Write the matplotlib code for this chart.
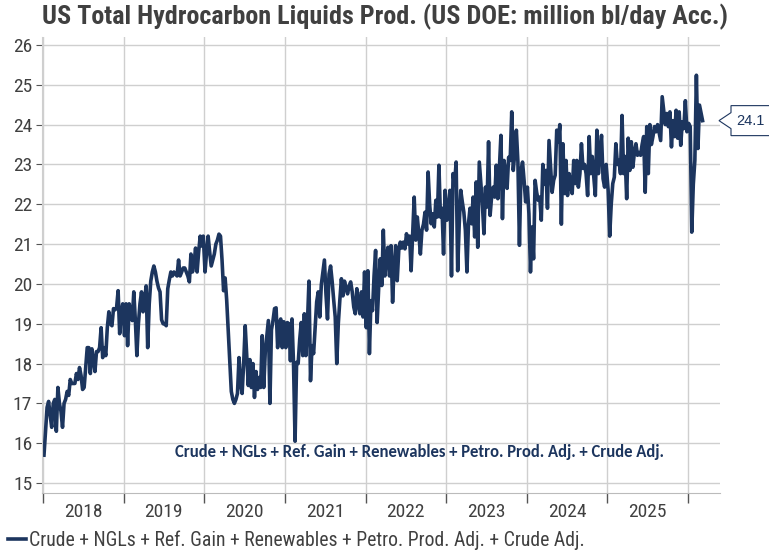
import numpy as np
import pandas as pd
import matplotlib
matplotlib.use('Agg')
import matplotlib.pyplot as plt
import matplotlib.dates as mdates
from matplotlib import font_manager as fm
from matplotlib.patches import Polygon

# weekly readings, million bl/day, one list per calendar year
prod_2018 = [15.7, 16.3, 16.9, 17.05, 16.7, 16.4, 17.0, 17.1, 16.3, 17.4,
             17.0, 16.8, 16.4, 17.0, 17.1, 17.3, 17.2, 17.6, 17.5, 17.5,
             17.5, 17.75, 17.6, 17.9, 17.7, 17.35, 17.4, 17.9, 18.4, 18.4,
             17.75, 18.37, 18.1, 17.8, 18.3, 18.3, 18.4, 18.9, 18.15, 18.4,
             18.2, 18.9, 19.3, 19.0, 18.95, 19.38, 19.35, 19.4, 19.83, 18.75,
             19.3, 19.5]
prod_2019 = [18.7, 19.5, 18.45, 19.5, 19.3, 19.08, 19.8, 19.1, 18.2, 19.0,
             19.5, 19.8, 19.3, 19.6, 19.95, 18.4, 19.5, 20.07, 20.3, 20.45,
             20.3, 20.07, 19.9, 19.8, 19.1, 19.0, 19.0, 18.95, 19.88, 20.1,
             20.3, 20.2, 20.3, 20.25, 20.2, 20.6, 20.2, 20.3, 20.4, 20.4,
             20.3, 20.2, 20.05, 20.75, 20.3, 20.5, 20.9, 20.3, 20.8, 21.2,
             20.95, 21.2]
prod_2020 = [20.3, 20.8, 21.2, 20.8, 20.45, 20.6, 20.75, 21.0, 21.1, 21.25,
             21.2, 20.6, 19.83, 20.15, 19.6, 18.85, 18.1, 17.3, 17.1, 17.0,
             17.1, 17.25, 18.15, 17.5, 17.25, 18.0, 18.95, 18.2, 17.45, 18.1,
             17.4, 18.0, 17.15, 17.8, 17.35, 17.65, 17.4, 18.7, 17.4, 18.3,
             18.7, 19.08, 17.0, 18.85, 19.08, 19.38, 19.4, 18.4, 19.0, 19.12,
             18.4, 19.05]
prod_2021 = [18.4, 19.03, 19.0, 18.07, 19.12, 18.0, 16.05, 18.03, 18.0, 18.6,
             19.03, 18.2, 19.25, 18.2, 19.0, 20.07, 17.57, 18.45, 18.25, 18.9,
             19.55, 19.8, 19.17, 19.98, 20.3, 20.6, 19.75, 19.12, 20.25, 20.45,
             20.07, 19.6, 19.17, 18.0, 19.0, 19.6, 20.13, 19.7, 20.07, 19.9,
             19.75, 19.95, 20.05, 19.8, 19.42, 19.25, 19.88, 19.5, 19.25, 19.8,
             19.17, 20.3]
prod_2022 = [18.9, 20.33, 18.25, 19.58, 19.33, 20.2, 20.84, 19.03, 19.9, 20.63,
             19.96, 21.35, 20.2, 20.6, 20.92, 20.2, 20.96, 19.54, 20.4, 20.96,
             20.08, 20.84, 21.05, 20.9, 21.05, 20.88, 21.26, 21.0, 21.2, 20.33,
             21.26, 22.18, 21.1, 21.68, 21.26, 20.75, 21.35, 21.5, 21.8, 21.35,
             22.81, 22.0, 21.51, 21.76, 21.43, 22.1, 21.68, 22.98, 21.68, 21.9,
             20.75, 22.35]
prod_2023 = [21.6, 21.9, 22.35, 20.2, 22.77, 22.5, 23.06, 20.33, 21.5, 22.35,
             22.06, 21.8, 21.34, 20.3, 21.51, 21.9, 21.51, 22.18, 21.18, 22.56,
             20.92, 23.06, 22.52, 22.0, 21.26, 22.43, 21.93, 23.57, 21.72, 22.2,
             22.43, 22.18, 22.98, 22.14, 22.9, 23.73, 21.64, 23.1, 22.8, 22.4,
             23.18, 23.1, 24.32, 22.85, 23.3, 23.86, 23.06, 20.97, 22.85, 23.06,
             22.6, 22.06]
prod_2024 = [22.43, 21.76, 20.3, 21.43, 20.63, 22.6, 22.3, 22.1, 22.18, 21.6,
             23.0, 22.5, 22.85, 21.9, 23.6, 22.93, 22.3, 22.6, 22.73, 23.86,
             23.57, 24.0, 21.5, 23.52, 22.27, 23.1, 22.22, 22.77, 22.5, 22.27,
             23.1, 22.52, 23.1, 22.43, 22.77, 23.52, 22.9, 23.0, 22.77, 22.22,
             23.7, 22.77, 23.2, 22.68, 22.22, 23.86, 22.77, 23.3, 23.73, 22.64,
             22.43, 23.0]
prod_2025 = [22.35, 21.2, 22.0, 22.52, 22.68, 23.52, 23.0, 23.1, 22.77, 24.23,
             22.77, 23.2, 22.14, 23.66, 22.85, 23.57, 22.93, 23.3, 23.52, 23.23,
             23.3, 23.23, 23.5, 23.7, 22.3, 23.95, 22.77, 24.0, 23.5, 23.7,
             23.95, 23.82, 24.0, 23.8, 23.6, 24.7, 24.36, 24.0, 24.28, 23.95,
             24.32, 23.44, 24.1, 23.7, 24.36, 23.66, 24.32, 23.48, 24.07, 23.9,
             24.6, 23.82]
prod_2026 = [24.03, 23.95, 21.3, 22.5, 23.1, 25.24, 23.4, 24.49, 24.3, 24.1]

years = [2018, 2019, 2020, 2021, 2022, 2023, 2024, 2025, 2026]
yearly = [prod_2018, prod_2019, prod_2020, prod_2021, prod_2022,
          prod_2023, prod_2024, prod_2025, prod_2026]

series_name = 'Crude + NGLs + Ref. Gain + Renewables + Petro. Prod. Adj. + Crude Adj.'
title = 'US Total Hydrocarbon Liquids Prod. (US DOE: million bl/day Acc.)'

dates = []
values = []
for yr, vals in zip(years, yearly):
    dates += list(pd.date_range(f'{yr}-01-04', periods=len(vals), freq='7D'))
    values += vals
s = pd.Series(values, index=pd.DatetimeIndex(dates))


def pick_font(cands, min_weight=400):
    # first installed family that has the wanted weight
    for c in cands:
        for f in fm.fontManager.ttflist:
            w = f.weight if isinstance(f.weight, int) else (700 if 'bold' in str(f.weight) else 400)
            if f.name == c and w >= min_weight:
                return c
    return 'DejaVu Sans'


narrow_cands = ['Liberation Sans Narrow', 'Arial Narrow', 'Roboto Condensed',
                'Archivo Narrow', 'PT Sans Narrow', 'Asap Condensed']
narrow = [pick_font(narrow_cands), 'DejaVu Sans']
narrow_bold = [pick_font(narrow_cands, 700), 'DejaVu Sans']

navy = '#1c355e'
grey_txt = '#404040'

fig = plt.figure(figsize=(7.69, 5.51), dpi=100)
W, H = 769, 551
ax = fig.add_axes([42 / W, 1 - 493 / H, (720 - 42) / W, (493 - 37) / H])

line, = ax.plot(s.index, s.values, color=navy, lw=2.6, solid_joinstyle='round')

ax.set_xlim(pd.Timestamp('2017-12-26'), pd.Timestamp('2026-05-26'))
ax.set_ylim(14.75, 26.2)
ax.set_yticks(range(15, 27))

ax.xaxis.set_major_locator(mdates.YearLocator())
ax.xaxis.set_major_formatter(plt.NullFormatter())
ax.xaxis.set_minor_locator(mdates.MonthLocator(bymonth=7, bymonthday=1))
ax.xaxis.set_minor_formatter(mdates.DateFormatter('%Y'))
ax.tick_params(axis='x', which='major', length=7, color='#555555', width=1)
ax.tick_params(axis='x', which='minor', length=0, pad=7, labelsize=14,
               labelcolor=grey_txt)
ax.tick_params(axis='y', length=4, color='#555555', labelsize=14,
               labelcolor=grey_txt, pad=3)
for lab in ax.get_xticklabels(minor=True) + ax.get_yticklabels():
    lab.set_family(narrow)

ax.grid(True, which='major', color='#cfcfcf', lw=1)
ax.set_axisbelow(True)
for side in ['top', 'right']:
    ax.spines[side].set_visible(False)
ax.spines['left'].set_color('#cfcfcf')
ax.spines['bottom'].set_color('#bbbbbb')

ax.text(0.557, 0.09, series_name, transform=ax.transAxes, ha='center',
        va='center', color=navy, fontsize=12, fontweight='bold',
        family=['Carlito', 'Lato', 'DejaVu Sans'])

fig.text(0.5, 1 - 17 / H, title, ha='center', va='center', fontsize=18.8,
         fontweight='bold', color=grey_txt, family=narrow_bold)

fig.legend([line], [series_name], loc='lower left', bbox_to_anchor=(-0.013, -0.03),
           frameon=False, handlelength=0.9, handletextpad=0.2,
           prop={'family': narrow, 'size': 14.2}, labelcolor=grey_txt)

# last value callout
last = s.values[-1]
tip_y = ax.transData.transform((0, last))[1]
tip_x = 719
pts = np.array([[tip_x, tip_y], [731, tip_y + 8], [731, tip_y + 15],
                [772, tip_y + 15], [772, tip_y - 15], [731, tip_y - 15],
                [731, tip_y - 8]])
pts = pts / np.array([W, H])
fig.patches.append(Polygon(pts, closed=True, transform=fig.transFigure,
                           facecolor='white', edgecolor=navy, lw=0.8))
fig.text(750 / W, tip_y / H, f'{last:.1f}', ha='center', va='center',
         fontsize=10.5, color=navy, family=['Liberation Sans', 'DejaVu Sans'])

fig.savefig('out.png', dpi=100)
